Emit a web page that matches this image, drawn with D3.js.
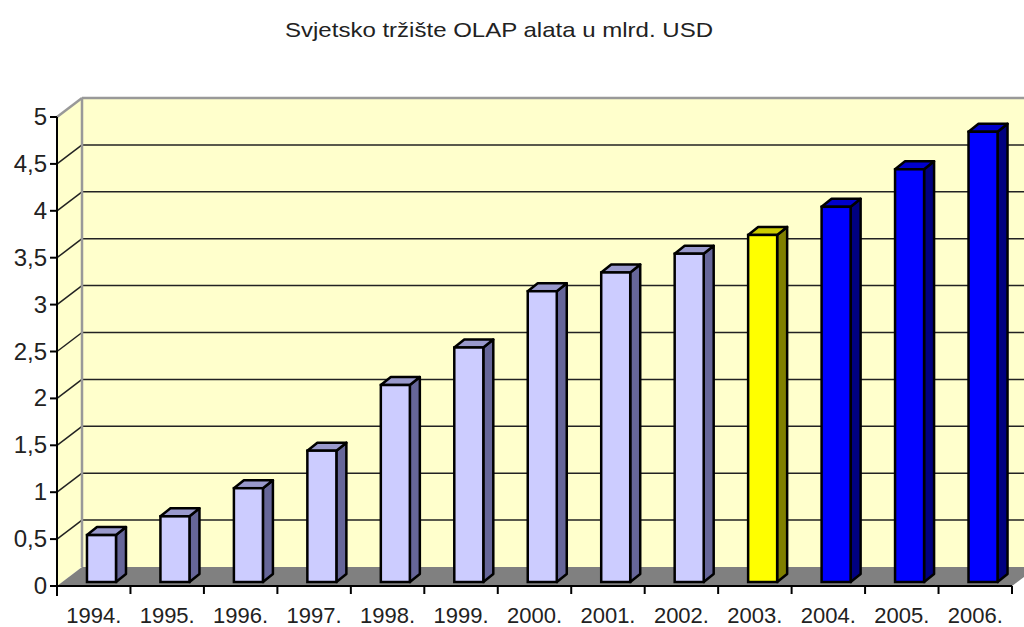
<!DOCTYPE html>
<html>
<head>
<meta charset="utf-8">
<script src="https://cdn.jsdelivr.net/npm/d3@7"></script>
<style>
  body { margin: 0; background: #fff; }
  svg { display: block; font-family: "Liberation Sans", Arial, sans-serif; }
</style>
</head>
<body>
<div id="chart-area"></div>
<script>
// data
var years = ["1994.", "1995.", "1996.", "1997.", "1998.", "1999.", "2000.",
             "2001.", "2002.", "2003.", "2004.", "2005.", "2006."];
var values = [0.5, 0.7, 1.0, 1.4, 2.1, 2.5, 3.1, 3.3, 3.5, 3.7, 4.0, 4.4, 4.8];
var groups = ["past", "past", "past", "past", "past", "past", "past",
              "past", "past", "now", "fc", "fc", "fc"];
var yTicks = [0, 0.5, 1, 1.5, 2, 2.5, 3, 3.5, 4, 4.5, 5];

var palette = {
    past: { front: "#ccccff", side: "#666699", top: "#9999cc" },
    now:  { front: "#ffff00", side: "#808000", top: "#cccc00" },
    fc:   { front: "#0000ff", side: "#000080", top: "#0000cc" }
};

var W = 1024, H = 627;
var pLeft = 57, pRight = 1012, pBase = 586, pTop = 117;
var dx = 25, dy = -19;          // wall depth
var bdx = 5, bdy = -4;          // bar front offset
var ddx = 10, ddy = -8;         // bar depth

var svg = d3.select("#chart-area").append("svg")
    .attr("width", W)
    .attr("height", H);

var x = d3.scaleBand().domain(years).range([pLeft, pRight]);
var y = d3.scaleLinear().domain([0, 5]).range([pBase, pTop]);

var pts = (a) => a.map(p => p.join(",")).join(" ");

// back wall
svg.append("polygon")
    .attr("points", pts([[pLeft + dx, pTop + dy], [pRight + dx + 40, pTop + dy],
                         [pRight + dx + 40, pBase + dy], [pLeft + dx, pBase + dy]]))
    .attr("fill", "#ffffcc");
// side wall
svg.append("polygon")
    .attr("points", pts([[pLeft, pTop], [pLeft + dx, pTop + dy], [pLeft + dx, pBase + dy], [pLeft, pBase]]))
    .attr("fill", "#ffffcc");

// gridlines on back wall and side wall
yTicks.slice(1).forEach((t) => {
    var col = t === 5 ? "#999" : "#222";
    var sw = t === 5 ? 2.5 : 1.5;
    svg.append("line")
        .attr("x1", pLeft + dx).attr("x2", W)
        .attr("y1", y(t) + dy).attr("y2", y(t) + dy)
        .attr("stroke", col).attr("stroke-width", sw);
    svg.append("line")
        .attr("x1", pLeft).attr("x2", pLeft + dx)
        .attr("y1", y(t)).attr("y2", y(t) + dy)
        .attr("stroke", col).attr("stroke-width", sw);
});
svg.append("line")
    .attr("x1", pLeft + dx).attr("x2", pLeft + dx)
    .attr("y1", pTop + dy).attr("y2", pBase + dy)
    .attr("stroke", "#999").attr("stroke-width", 2.5);

// floor
svg.append("polygon")
    .attr("points", pts([[pLeft, pBase], [pRight, pBase], [pRight + dx, pBase + dy], [pLeft + dx, pBase + dy]]))
    .attr("fill", "#808080");

// axes
svg.append("line")
    .attr("x1", pLeft).attr("x2", pLeft)
    .attr("y1", pTop).attr("y2", pBase + 10)
    .attr("stroke", "#000").attr("stroke-width", 2);
svg.append("line")
    .attr("x1", pLeft - 6).attr("x2", pRight)
    .attr("y1", pBase).attr("y2", pBase)
    .attr("stroke", "#000").attr("stroke-width", 2);

yTicks.forEach((t) => {
    svg.append("line")
        .attr("x1", pLeft - 7).attr("x2", pLeft)
        .attr("y1", y(t)).attr("y2", y(t))
        .attr("stroke", "#000").attr("stroke-width", 2);
    svg.append("text")
        .attr("x", pLeft - 10)
        .attr("y", y(t) + 8)
        .attr("text-anchor", "end")
        .attr("font-size", 24)
        .attr("fill", "#222")
        .text(String(t).replace(".", ","));
});

years.concat(["end"]).forEach((c, i) => {
    var xx = pLeft + i * x.bandwidth();
    svg.append("line")
        .attr("x1", xx).attr("x2", xx)
        .attr("y1", pBase).attr("y2", pBase + 8)
        .attr("stroke", "#000").attr("stroke-width", 2);
});

svg.selectAll(".xlab").data(years).enter().append("text")
    .attr("class", "xlab")
    .attr("x", d => x(d) + x.bandwidth() / 2)
    .attr("y", 623)
    .attr("text-anchor", "middle")
    .attr("font-size", 22)
    .attr("fill", "#222")
    .text(d => d);

// bars
var bw = x.bandwidth() * 0.395;
var bars = svg.selectAll(".bar").data(years).enter().append("g").attr("class", "bar");

bars.each(function(d, i) {
    var g = d3.select(this);
    var c = palette[groups[i]];
    var x0 = x(d) + x.bandwidth() * 0.34 + bdx;
    var x1 = x0 + bw;
    var y0 = y(0) + bdy;
    var y1 = y(values[i]) + bdy;
    // side
    g.append("polygon")
        .attr("points", pts([[x1, y1], [x1 + ddx, y1 + ddy], [x1 + ddx, y0 + ddy], [x1, y0]]))
        .attr("fill", c.side).attr("stroke", "#000").attr("stroke-width", 2.5)
        .attr("stroke-linejoin", "round");
    // top
    g.append("polygon")
        .attr("points", pts([[x0, y1], [x0 + ddx, y1 + ddy], [x1 + ddx, y1 + ddy], [x1, y1]]))
        .attr("fill", c.top).attr("stroke", "#000").attr("stroke-width", 2.5)
        .attr("stroke-linejoin", "round");
    // front
    g.append("rect")
        .attr("x", x0).attr("y", y1)
        .attr("width", bw).attr("height", y0 - y1)
        .attr("fill", c.front).attr("stroke", "#000").attr("stroke-width", 2.5);
});

// title
svg.append("text")
    .attr("x", 499)
    .attr("y", 37)
    .attr("text-anchor", "middle")
    .attr("font-size", 21)
    .attr("textLength", 428)
    .attr("lengthAdjust", "spacingAndGlyphs")
    .attr("fill", "#222")
    .text("Svjetsko tržište OLAP alata u mlrd. USD");
</script>
</body>
</html>
